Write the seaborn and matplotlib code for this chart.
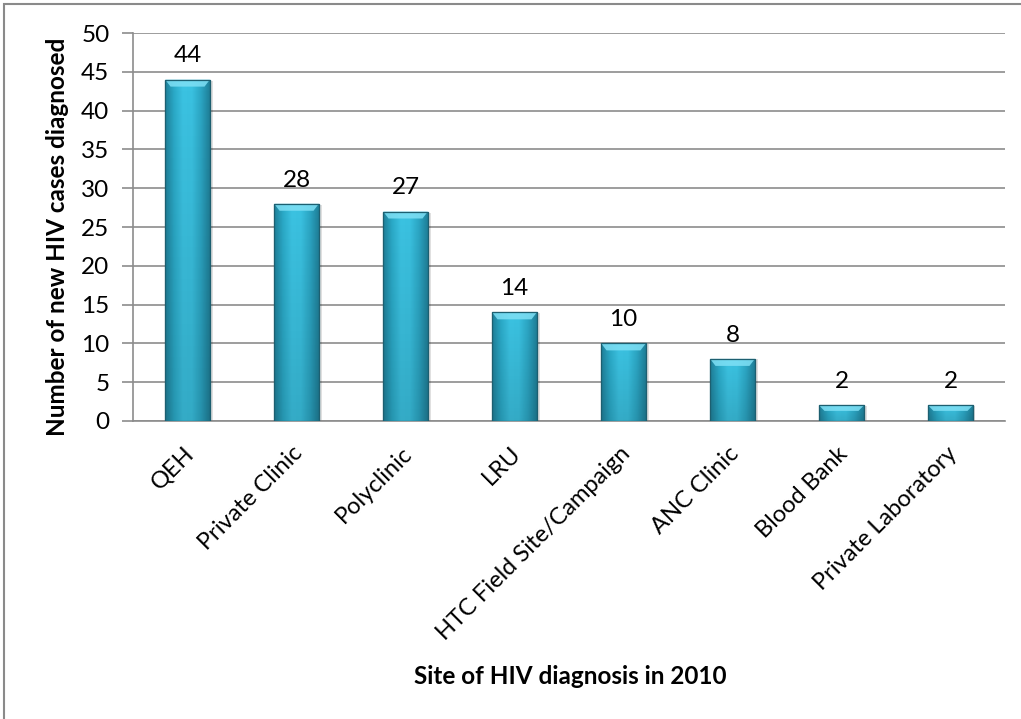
import numpy as np
import pandas as pd
import matplotlib
matplotlib.use("Agg")
import matplotlib.pyplot as plt
import matplotlib.transforms as mtransforms
from matplotlib.patches import Rectangle, Polygon
from matplotlib.colors import LinearSegmentedColormap
import seaborn as sns

# Data
sites = ["QEH", "Private Clinic", "Polyclinic", "LRU", "HTC Field Site/Campaign",
         "ANC Clinic", "Blood Bank", "Private Laboratory"]
cases = [44, 28, 27, 14, 10, 8, 2, 2]

df = pd.DataFrame({"site": sites, "cases": cases})

sns.set_theme(style="white")
plt.rcParams["font.family"] = ["Lato", "DejaVu Sans"]

fig = plt.figure(figsize=(10.21, 7.19), dpi=100)
ax = fig.add_axes([0.1303, 0.4145, 0.8540, 0.5395])

bar_color = "#2fb3d3"
sns.barplot(data=df, x="site", y="cases", ax=ax, color=bar_color,
            width=0.41, saturation=1, edgecolor="#1d5f70", linewidth=0.8,
            zorder=3)

ax.set_xlim(-0.5, len(sites) - 0.5)
ax.set_ylim(0, 50)
ax.set_yticks(np.arange(0, 51, 5))
ax.yaxis.grid(True, color="#8c8c8c", linewidth=1.2, zorder=0)
ax.set_axisbelow(True)

# Shaded, bevelled bar faces
cmap = LinearSegmentedColormap.from_list(
    "cyanbar", ["#1f7f98", "#2ba9c7", "#3cc3e2", "#3ac1e0", "#2ca6c4", "#1f7f98"])
grad = np.linspace(0, 1, 256).reshape(1, -1)
for bar in ax.patches:
    x0, y0 = bar.get_x(), bar.get_y()
    w, h = bar.get_width(), bar.get_height()
    # soft shadow to the right
    ax.add_patch(Rectangle((x0 + w * 0.06, y0), w, h * 0.995, facecolor="#000000",
                           alpha=0.12, edgecolor="none", zorder=2.5))
    im = ax.imshow(grad, extent=(x0, x0 + w, y0, y0 + h), aspect="auto",
                   cmap=cmap, zorder=3.1, interpolation="bilinear")
    im.set_clip_path(bar)
    # vertical darkening toward the base
    vgrad = np.linspace(0, 1, 128).reshape(-1, 1)
    im2 = ax.imshow(vgrad, extent=(x0, x0 + w, y0, y0 + h), aspect="auto",
                    cmap=LinearSegmentedColormap.from_list(
                        "shade", [(0, 0, 0, 0.0), (0, 0, 0, 0.12)]),
                    zorder=3.2, interpolation="bilinear", origin="upper")
    im2.set_clip_path(bar)
    # top bevel
    bev = min(0.9, h * 0.35)
    inset = w * 0.12
    ax.add_patch(Polygon([(x0, y0 + h), (x0 + w, y0 + h),
                          (x0 + w - inset, y0 + h - bev), (x0 + inset, y0 + h - bev)],
                         closed=True, facecolor="#7fe0f5", edgecolor="none",
                         alpha=0.85, zorder=3.3))
    ax.add_patch(Rectangle((x0, y0), w, h, facecolor="none", edgecolor="#1d5f70",
                           linewidth=0.9, zorder=3.4))
    ax.text(x0 + w / 2, y0 + h + 1.7, f"{int(h)}", ha="center", va="bottom",
            fontsize=17.5, color="#000000", zorder=4)

# Axes styling
for side in ["top", "right"]:
    ax.spines[side].set_visible(False)
for side in ["left", "bottom"]:
    ax.spines[side].set_color("#8c8c8c")
    ax.spines[side].set_linewidth(1.2)

ax.set_xticks(np.arange(len(sites)))
ax.set_xticks(np.arange(-0.5, len(sites), 1.0), minor=True)
ax.tick_params(axis="x", which="major", length=0, pad=21, labelsize=17, colors="#000000")
ax.tick_params(axis="x", which="minor", length=7, width=1.2, color="#8c8c8c", direction="out")
ax.tick_params(axis="y", which="major", length=8, width=1.2, color="#8c8c8c",
               direction="out", left=True, labelsize=17.5, pad=9, labelcolor="#000000")

offset = mtransforms.ScaledTranslation(3 / 100, 0, fig.dpi_scale_trans)
ax.set_xticklabels(sites)
for lbl in ax.get_xticklabels():
    lbl.set_rotation(45)
    lbl.set_ha("right")
    lbl.set_va("center")
    lbl.set_rotation_mode("anchor")
    lbl.set_transform(lbl.get_transform() + offset)

ax.set_xlabel("Site of HIV diagnosis in 2010", fontsize=17.5, fontweight="bold",
              color="#000000", labelpad=0)
ax.xaxis.set_label_coords(0.501, -0.63)
ax.set_ylabel("Number of new HIV cases diagnosed", fontsize=17.5, fontweight="bold",
              color="#000000")
ax.yaxis.set_label_coords(-0.074, 0.475)

# Frame around the chart area
fig.patches.append(Rectangle((4 / 1021, -0.5), 1.5, 0.5 + 1 - 4 / 719,
                             transform=fig.transFigure, facecolor="none",
                             edgecolor="#8a8a8a", linewidth=1.5, zorder=10))

fig.savefig("out.png", dpi=100)
